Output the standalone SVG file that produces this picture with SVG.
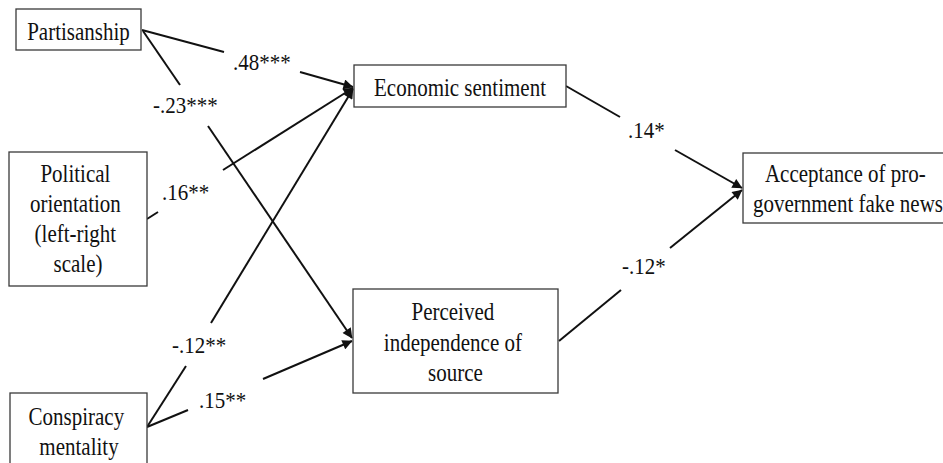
<svg xmlns="http://www.w3.org/2000/svg" width="943" height="463" viewBox="0 0 943 463">
  <style>
    .box { fill: #ffffff; stroke: #3a3a3a; stroke-width: 1.3; }
    .lbl { font-family: "Liberation Serif", "Times New Roman", serif; font-size: 21px; fill: #111111; }
    .node text { text-anchor: middle; }
    .path { fill: none; stroke: #111111; stroke-width: 2; }
  </style>
  <defs>
    <marker id="arrow" viewBox="0 0 10 10" refX="9.5" refY="5" markerWidth="5.5" markerHeight="5" orient="auto" markerUnits="strokeWidth">
      <path d="M0,0 L10,5 L0,10 Z" fill="#111111"/>
    </marker>
  </defs>
  <rect width="943" height="463" fill="#ffffff"/>

  <!-- structural paths, each broken where its coefficient sits -->
  <g id="connectors">
    <!-- Partisanship -> Economic sentiment -->
    <line class="path" x1="142" y1="30" x2="224" y2="52"/>
    <line class="path" x1="300" y1="72" x2="353" y2="87" marker-end="url(#arrow)"/>
    <!-- Partisanship -> Perceived independence -->
    <line class="path" x1="143" y1="31" x2="180" y2="85"/>
    <line class="path" x1="208" y1="126" x2="352" y2="338" marker-end="url(#arrow)"/>
    <!-- Political orientation -> Economic sentiment -->
    <line class="path" x1="147" y1="219" x2="158" y2="212"/>
    <line class="path" x1="223" y1="170" x2="353" y2="88" marker-end="url(#arrow)"/>
    <!-- Conspiracy mentality -> Economic sentiment -->
    <line class="path" x1="147" y1="427" x2="186" y2="366"/>
    <line class="path" x1="211" y1="323" x2="353" y2="89" marker-end="url(#arrow)"/>
    <!-- Conspiracy mentality -> Perceived independence -->
    <line class="path" x1="147" y1="427" x2="188" y2="410"/>
    <line class="path" x1="263" y1="379" x2="352" y2="341" marker-end="url(#arrow)"/>
    <!-- Economic sentiment -> Acceptance -->
    <line class="path" x1="566" y1="86" x2="620" y2="117"/>
    <line class="path" x1="675" y1="150" x2="742" y2="188" marker-end="url(#arrow)"/>
    <!-- Perceived independence -> Acceptance -->
    <line class="path" x1="559" y1="341" x2="621" y2="290"/>
    <line class="path" x1="670" y1="248" x2="742" y2="190" marker-end="url(#arrow)"/>
  </g>

  <!-- path coefficients -->
  <g id="coefficients" class="lbl">
    <text transform="translate(233,70) scale(1,1.1)">.48***</text>
    <text transform="translate(153,113) scale(1,1.1)">-.23***</text>
    <text transform="translate(162,200) scale(1,1.1)">.16**</text>
    <text transform="translate(172,353) scale(1,1.1)">-.12**</text>
    <text transform="translate(199,408) scale(1,1.1)">.15**</text>
    <text transform="translate(628,138) scale(1,1.1)">.14*</text>
    <text transform="translate(622,274) scale(1,1.1)">-.12*</text>
  </g>

  <g id="partisanship" class="node lbl">
    <rect class="box" x="16" y="9" width="125" height="41"/>
    <text transform="translate(78.5,39.5) scale(1,1.2)">Partisanship</text>
  </g>

  <g id="political-orientation" class="node lbl">
    <rect class="box" x="9" y="152" width="138" height="134"/>
    <text transform="translate(78,182) scale(1,1.2)">
      <tspan x="0" y="0">Political</tspan>
      <tspan x="0" y="25.2">orientation</tspan>
      <tspan x="0" y="50.2">(left-right</tspan>
      <tspan x="0" y="75.2">scale)</tspan>
    </text>
  </g>

  <g id="conspiracy-mentality" class="node lbl">
    <rect class="box" x="10" y="393" width="137" height="90"/>
    <text transform="translate(79,425) scale(1,1.2)">
      <tspan x="0" y="0">Conspiracy</tspan>
      <tspan x="0" y="25">mentality</tspan>
    </text>
  </g>

  <g id="economic-sentiment" class="node lbl">
    <rect class="box" x="354" y="65" width="212" height="42"/>
    <text transform="translate(460,96) scale(1,1.2)">Economic sentiment</text>
  </g>

  <g id="perceived-independence" class="node lbl">
    <rect class="box" x="353" y="289" width="205" height="104"/>
    <text transform="translate(455.5,320) scale(1,1.2)">
      <tspan x="0" y="0">Perceived</tspan>
      <tspan x="0" y="25.5">independence of</tspan>
      <tspan x="0" y="51">source</tspan>
    </text>
  </g>

  <g id="acceptance" class="node lbl">
    <rect class="box" x="743" y="153" width="212" height="70"/>
    <text transform="translate(848,182) scale(1,1.2)">
      <tspan x="0" y="0">Acceptance of pro-</tspan>
      <tspan x="0" y="25">government fake news</tspan>
    </text>
  </g>
</svg>
